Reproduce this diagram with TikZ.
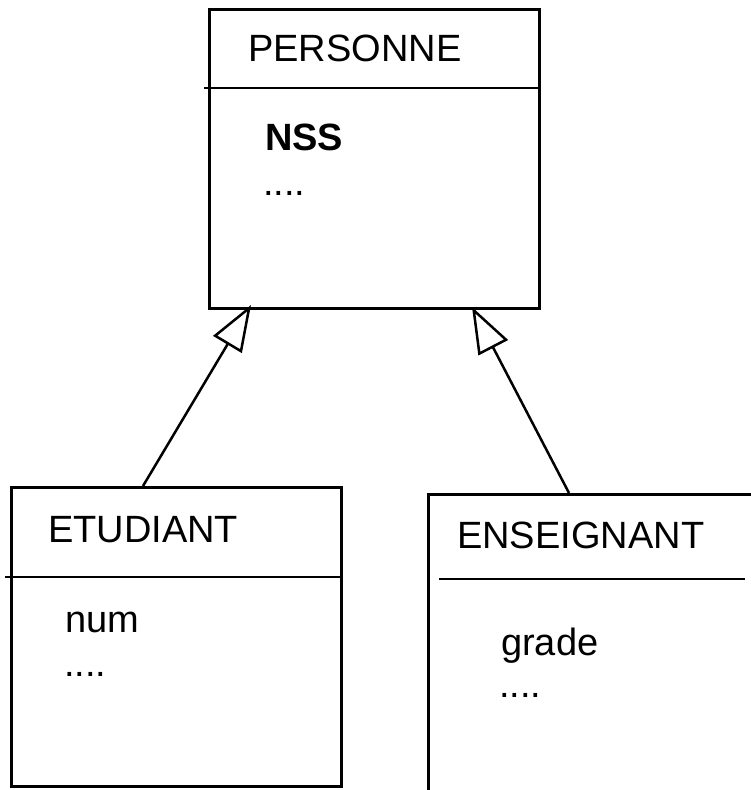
\documentclass[tikz,border=0pt]{standalone}
\usepackage{fontspec}
\setmainfont{Liberation Sans}
\usetikzlibrary{arrows.meta}
\begin{document}
\begin{tikzpicture}[x=1pt,y=-1pt,
  classbox/.style={draw,line width=2.5pt,anchor=north west,inner sep=0pt},
  sepline/.style={line width=2.5pt},
  label/.style={anchor=base west,inner sep=0pt,font=\fontsize{38}{40}\selectfont},
  inherit/.style={line width=2.5pt,-{Triangle[open,length=46pt,width=33pt]}}]
\useasboundingbox (0,0) rectangle (751,790);
\clip (0,0) rectangle (751,790);
\fill[white] (0,0) rectangle (751,790);
% boxes
\node[classbox,minimum width=330pt,minimum height=299pt] (pers) at (208,8) {};
\node[classbox,minimum width=330pt,minimum height=299pt] (etu) at (10,486) {};
\node[classbox,minimum width=330pt,minimum height=300pt] (ens) at (427,493) {};
% separators
\draw[sepline] (204,88) -- (pers.east |- 0,88);
\draw[sepline] (5,577) -- (etu.east |- 0,577);
\draw[sepline] (439,579) -- (745,579);
% texts
\node[label] (tp) at (248,61) {PERSONNE};
\node[label,font=\fontsize{38}{40}\selectfont\bfseries] (a1) at (265,150) {NSS};
\node[label] (d1) at (263,195) {....};
\node[label] (te) at (48,542) {ETUDIANT};
\node[label] (a2) at (65,632) {num};
\node[label] (d2) at (64,676) {....};
\node[label] (tn) at (457,548) {ENSEIGNANT};
\node[label] (a3) at (501,655) {grade};
\node[label] (d3) at (499,697) {....};
% connectors
\coordinate (e1) at (143,486);
\coordinate (p1) at (251,305);
\coordinate (n1) at (569,493);
\coordinate (p2) at (472,307);
\draw[inherit] (e1) -- (p1);
\draw[inherit] (n1) -- (p2);
\end{tikzpicture}
\end{document}
